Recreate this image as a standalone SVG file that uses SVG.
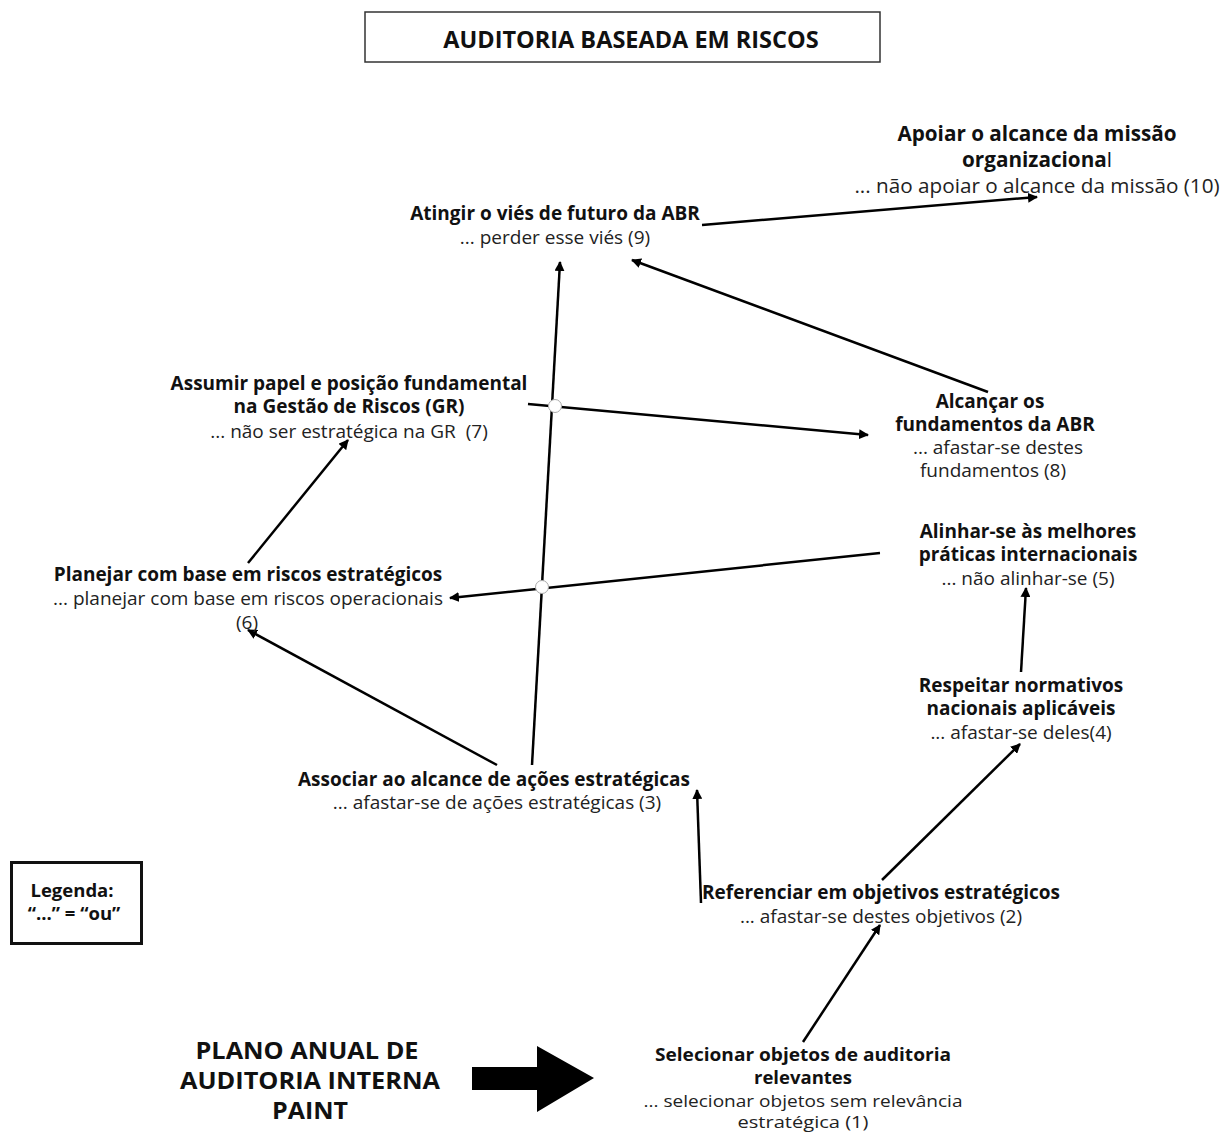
<svg xmlns="http://www.w3.org/2000/svg" width="1222" height="1133" viewBox="0 0 1222 1133">
<defs>
<marker id="ah" viewBox="0 0 10 10" refX="9" refY="5" markerWidth="4" markerHeight="4" orient="auto" markerUnits="strokeWidth">
<path d="M0,0 L10,5 L0,10 Z" fill="#000"/>
</marker>
<style>
text{font-family:"Open Sans","Noto Sans","DejaVu Sans",sans-serif;fill:#111;text-anchor:middle}
.b{font-weight:bold;font-size:19px}
.r{font-size:19px;fill:#222}
.b10{font-weight:bold;font-size:20.7px}
.r10{font-size:20.7px;fill:#222}
.c{stroke:#000;stroke-width:2.5;fill:none;marker-end:url(#ah)}
.j{fill:#fff;stroke:#aaa;stroke-width:1}
.cb{font-weight:bold;font-size:24px}
.nb{font-weight:bold;font-size:17px}
.cr{font-size:17px;fill:#222}
</style>
</defs>
<rect width="1222" height="1133" fill="#fff"/>
<g id="title">
<rect x="365" y="12" width="515" height="50" fill="#fff" stroke="#333" stroke-width="1.5"/>
<text x="631" y="48" style="font-weight:bold;font-size:23.5px">AUDITORIA BASEADA EM RISCOS</text>
</g>
<g id="connectors">
<line class="c" x1="702" y1="225" x2="1037" y2="197"/>
<line class="c" x1="988" y1="392" x2="632" y2="260"/>
<line class="c" x1="532" y1="765" x2="560" y2="262"/>
<line class="c" x1="528" y1="404" x2="868" y2="435"/>
<line class="c" x1="880" y1="553" x2="450" y2="598"/>
<line class="c" x1="248" y1="563" x2="348" y2="440"/>
<line class="c" x1="497" y1="765" x2="248" y2="630"/>
<line class="c" x1="1021" y1="672" x2="1026" y2="588"/>
<line class="c" x1="882" y1="880" x2="1020" y2="744"/>
<line class="c" x1="701" y1="903" x2="697" y2="790"/>
<line class="c" x1="803" y1="1042" x2="880" y2="925"/>
<circle class="j" cx="555" cy="406" r="6.5"/>
<circle class="j" cx="542" cy="587" r="6.5"/>
</g>
<g id="n10">
<text class="b10" x="1037" y="141">Apoiar o alcance da missão</text>
<text class="b10" x="1037" y="167">organizaciona<tspan style="font-weight:normal">l</tspan></text>
<text class="r10" x="1037" y="193">... não apoiar o alcance da missão (10)</text>
</g>
<g id="n9">
<text class="b" x="555" y="220">Atingir o viés de futuro da ABR</text>
<text class="r" x="555" y="244">... perder esse viés (9)</text>
</g>
<g id="n7">
<text class="b" x="349" y="390">Assumir papel e posição fundamental</text>
<text class="b" x="349" y="413">na Gestão de Riscos (GR)</text>
<text class="r" x="349" y="438" style="white-space:pre">... não ser estratégica na GR  (7)</text>
</g>
<g id="n8">
<text class="b" x="990" y="408">Alcançar os</text>
<text class="b" x="995" y="431">fundamentos da ABR</text>
<text class="r" x="998" y="454">... afastar-se destes</text>
<text class="r" x="993" y="477">fundamentos (8)</text>
</g>
<g id="n5">
<text class="b" x="1028" y="538">Alinhar-se às melhores</text>
<text class="b" x="1028" y="561">práticas internacionais</text>
<text class="r" x="1028" y="585">... não alinhar-se (5)</text>
</g>
<g id="n6">
<text class="b" x="248" y="581">Planejar com base em riscos estratégicos</text>
<text class="r" x="248" y="605">... planejar com base em riscos operacionais</text>
<text class="r" x="247" y="629">(6)</text>
</g>
<g id="n4">
<text class="b" x="1021" y="692">Respeitar normativos</text>
<text class="b" x="1021" y="715">nacionais aplicáveis</text>
<text class="r" x="1021" y="739">... afastar-se deles(4)</text>
</g>
<g id="n3">
<text class="b" x="494" y="786">Associar ao alcance de ações estratégicas</text>
<text class="r" x="497" y="809">... afastar-se de ações estratégicas (3)</text>
</g>
<g id="n2">
<text class="b" x="881" y="899">Referenciar em objetivos estratégicos</text>
<text class="r" x="881" y="923">... afastar-se destes objetivos (2)</text>
</g>
<g id="n1">
<text class="nb" x="803" y="1061" textLength="296" lengthAdjust="spacingAndGlyphs">Selecionar objetos de auditoria</text>
<text class="nb" x="803" y="1084" textLength="98" lengthAdjust="spacingAndGlyphs">relevantes</text>
<text class="cr" x="803" y="1107" textLength="319" lengthAdjust="spacingAndGlyphs">... selecionar objetos sem relevância</text>
<text class="cr" x="803" y="1128" textLength="131" lengthAdjust="spacingAndGlyphs">estratégica (1)</text>
</g>
<g id="paint">
<text class="cb" x="307" y="1059" textLength="223" lengthAdjust="spacingAndGlyphs">PLANO ANUAL DE</text>
<text class="cb" x="310" y="1089" textLength="260" lengthAdjust="spacingAndGlyphs">AUDITORIA INTERNA</text>
<text class="cb" x="310" y="1119" textLength="76" lengthAdjust="spacingAndGlyphs">PAINT</text>
</g>
<g id="bigArrow">
<path d="M472,1067 L537,1067 L537,1046 L594,1078 L537,1112 L537,1090 L472,1090 Z" fill="#000"/>
</g>
<g id="legend">
<rect x="11.5" y="862.5" width="130" height="81" fill="#fff" stroke="#111" stroke-width="3"/>
<text x="72" y="897" style="font-weight:bold;font-size:18.5px">Legenda:</text>
<text x="74" y="920" style="font-weight:bold;font-size:18.5px">“...” = “ou”</text>
</g>
</svg>
